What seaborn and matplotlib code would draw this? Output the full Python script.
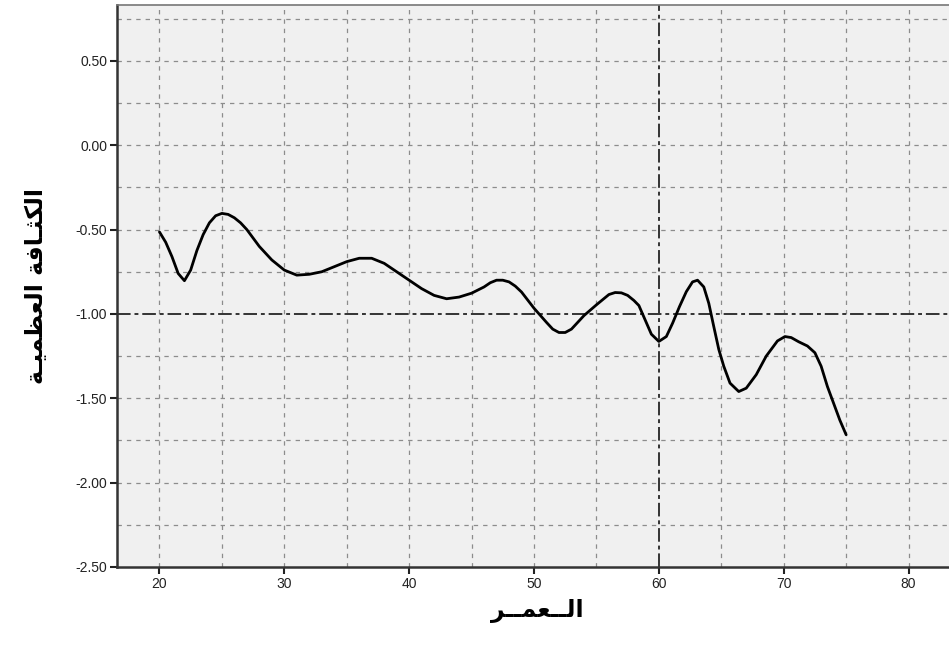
import matplotlib
matplotlib.use("Agg")
import matplotlib.pyplot as plt
import seaborn as sns
import pandas as pd
from matplotlib.ticker import FixedLocator

# ---- data ----
age = [20, 20.5, 21, 21.5, 22, 22.5, 23, 23.5, 24, 24.5, 25, 25.5, 26, 26.5, 27, 27.5,
       28, 29, 30, 31, 32, 33, 34, 35, 36, 37, 38, 39, 40, 41, 42, 43, 44, 45, 46, 46.5,
       47, 47.5, 48, 48.5, 49, 50, 51, 51.5, 52, 52.5, 53, 54, 55, 56, 56.5, 57, 57.5,
       58, 58.4, 58.9, 59.4, 60.0, 60.6, 61.1, 61.65, 62.2, 62.7, 63.1, 63.6, 64.0,
       64.4, 64.8, 65.2, 65.7, 66.4, 67.0, 67.8, 68.6, 69.0, 69.5, 70.1, 70.6, 71.2,
       71.9, 72.5, 73.0, 73.5, 74.0, 74.5, 75.0]
density = [-0.514, -0.575, -0.66, -0.76, -0.803, -0.74, -0.624, -0.53, -0.46, -0.418,
           -0.404, -0.41, -0.43, -0.46, -0.50, -0.55,
           -0.60, -0.68, -0.74, -0.77, -0.765, -0.75, -0.72, -0.69, -0.67, -0.67, -0.70,
           -0.75, -0.80, -0.85, -0.89, -0.91, -0.90, -0.877, -0.84, -0.815,
           -0.80, -0.80, -0.81, -0.835, -0.87, -0.966, -1.05, -1.09, -1.11, -1.11, -1.09,
           -1.01, -0.946, -0.885, -0.873, -0.875, -0.89,
           -0.92, -0.950, -1.035, -1.120, -1.163, -1.134, -1.055, -0.957, -0.868, -0.81,
           -0.80, -0.84, -0.937,
           -1.075, -1.21, -1.31, -1.41, -1.46, -1.44, -1.36, -1.25, -1.21, -1.16, -1.134,
           -1.14, -1.165,
           -1.19, -1.23, -1.31, -1.43, -1.53, -1.63, -1.716]
x_ticks = [20, 30, 40, 50, 60, 70, 80]
y_ticks = [0.50, 0.00, -0.50, -1.00, -1.50, -2.00, -2.50]
ref_x = 60
ref_y = -1.0

# Arabic labels in shaped presentation forms, visual (left-to-right) order
# logical: "العمـر"
x_label = "\uFEAE\u0640\u0640\uFEE4\uFECC\u0640\u0640\uFEDF\uFE8D"
# logical: "الكثـافة العظميـة"
y_label = ("\uFE94\u0640\uFEF4\uFEE4\uFEC8\uFECC\uFEDF\uFE8D" + " " +
           "\uFE94\uFED3\uFE8E\u0640\uFE9C\uFEDC\uFEDF\uFE8D")

df = pd.DataFrame({"age": age, "density": density})

sns.set_theme(style="white")
plt.rcParams["font.family"] = ["Liberation Sans", "DejaVu Sans"]
plt.rcParams["axes.unicode_minus"] = False

fig = plt.figure(figsize=(9.49, 6.46), dpi=100)
W, H = 949, 646
ax = fig.add_axes([117 / W, 1 - 567 / H, (W - 117) / W + 0.01, (567 - 4.7) / H])
ax.set_facecolor("#F0F0F0")

# grid
grid_kw = dict(color="#8C8C8C", lw=0.9, dashes=(3.5, 4))
for gx in [15, 20, 25, 30, 35, 40, 45, 50, 55, 65, 70, 75, 80, 85]:
    ax.axvline(gx, zorder=1, **grid_kw)
for gy in [0.75, 0.5, 0.25, 0.0, -0.25, -0.5, -0.75, -1.25, -1.5, -1.75, -2.0, -2.25]:
    ax.axhline(gy, zorder=1, **grid_kw)

# reference lines
ax.axvline(ref_x, color="#333333", lw=1.4, dashes=(7, 2, 2, 2), zorder=2)
ax.axhline(ref_y, color="#333333", lw=1.4, dashes=(7, 2, 2, 2), zorder=2)

sns.lineplot(data=df, x="age", y="density", color="black", lw=2.0, ax=ax, zorder=3)

ax.set_xlim(16.6, 84.0)
ax.set_ylim(-2.5, 0.833)
ax.xaxis.set_major_locator(FixedLocator(x_ticks))
ax.yaxis.set_major_locator(FixedLocator(y_ticks))
ax.set_yticklabels([f"{v:.2f}" for v in y_ticks])
ax.set_xticklabels([str(v) for v in x_ticks])
ax.tick_params(axis="both", which="major", direction="out", length=5, width=1.5,
               color="#222222", labelsize=10, labelcolor="#222222", pad=2,
               left=True, bottom=True)

for s in ["left", "bottom"]:
    ax.spines[s].set_color("#333333")
    ax.spines[s].set_linewidth(1.8)
ax.spines["top"].set_color("#777777")
ax.spines["top"].set_linewidth(1.2)
ax.spines["right"].set_visible(False)

ax.set_xlabel(x_label, fontsize=17, fontweight="bold", family=["DejaVu Sans"],
              color="black", labelpad=6)
ax.set_ylabel(y_label, fontsize=17, fontweight="bold", family=["DejaVu Sans"],
              color="black", labelpad=20)

fig.savefig("out.png", dpi=100)
